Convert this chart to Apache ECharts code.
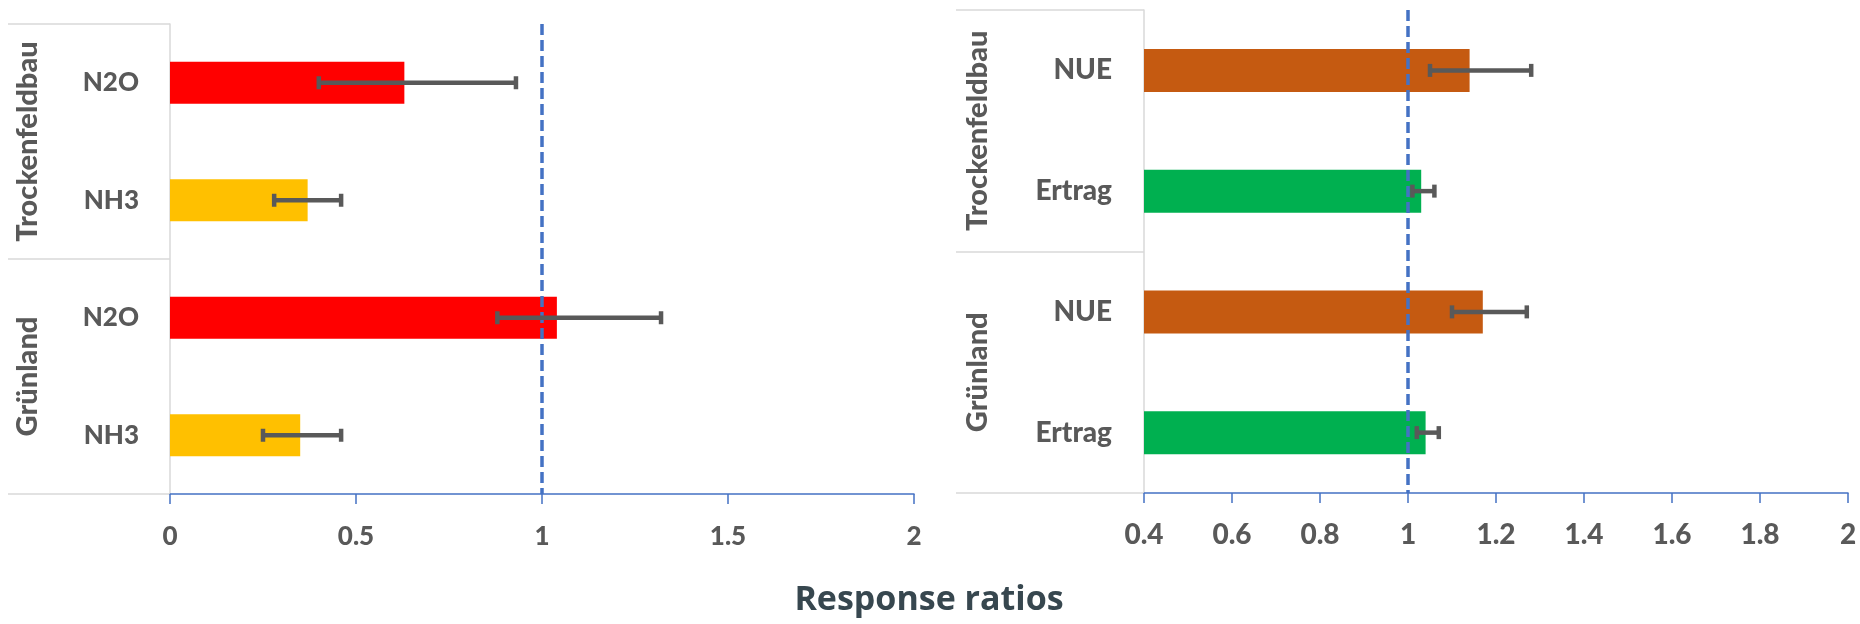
<!DOCTYPE html>
<html>
<head>
<meta charset="utf-8">
<script src="https://cdn.jsdelivr.net/npm/echarts@6/dist/echarts.min.js"></script>
<style>
  html, body { margin: 0; padding: 0; background: #fff; }
  #chart { width: 1860px; height: 624px; }
</style>
</head>
<body>
<div id="chart"></div>
<script>
// Emissions panel (left)
const emissionGroups = ['Trockenfeldbau', 'Grünland'];
const emissionNames = ['N2O', 'NH3', 'N2O', 'NH3'];
const emissionValues = [0.63, 0.37, 1.04, 0.35];
const emissionLow = [0.40, 0.28, 0.88, 0.25];
const emissionHigh = [0.93, 0.46, 1.32, 0.46];
const emissionTicks = { min: 0, max: 2, interval: 0.5 };

// Yield / NUE panel (right)
const yieldGroups = ['Trockenfeldbau', 'Grünland'];
const yieldNames = ['NUE', 'Ertrag', 'NUE', 'Ertrag'];
const yieldValues = [1.14, 1.03, 1.17, 1.04];
const yieldLow = [1.05, 1.01, 1.10, 1.02];
const yieldHigh = [1.28, 1.06, 1.27, 1.07];
const yieldTicks = { min: 0.4, max: 2, interval: 0.2 };

const axisTitle = 'Response ratios';

// styling
const emissionColors = { N2O: '#FF0000', NH3: '#FFC000' };
const yieldColors = { NUE: '#C55A11', Ertrag: '#00B050' };
const FONT = 'Lato';
const WEIGHT = 900;
const labelGrey = '#595959';
const tableGrey = '#D9D9D9';
const axisBlue = '#4472C4';

const chart = echarts.init(document.getElementById('chart'), null, { renderer: 'canvas' });

function keys(names) {
  return names.map((n, i) => i + '|' + n);
}

function errorRender(params, api) {
  const idx = api.value(2);
  const a = api.coord([api.value(0), idx]);
  const b = api.coord([api.value(1), idx]);
  const cap = 6.5;
  const style = { stroke: '#595959', lineWidth: 4.5 };
  return {
    type: 'group',
    children: [
      { type: 'line', shape: { x1: a[0], y1: a[1], x2: b[0], y2: b[1] }, style },
      { type: 'line', shape: { x1: a[0], y1: a[1] - cap, x2: a[0], y2: a[1] + cap }, style },
      { type: 'line', shape: { x1: b[0], y1: b[1] - cap, x2: b[0], y2: b[1] + cap }, style }
    ]
  };
}

function panel(gi, names, groups, values, low, high, colors, ticks, opts) {
  const cats = keys(names);
  const yAxes = [
    {
      type: 'category', gridIndex: gi, inverse: true, data: cats, position: 'left',
      axisLine: { show: false }, axisTick: { show: false },
      axisLabel: {
        interval: 0, margin: opts.nameMargin, fontFamily: FONT, fontWeight: WEIGHT,
        fontSize: opts.nameSize, color: labelGrey,
        formatter: (v) => v.split('|')[1]
      }
    },
    {
      type: 'category', gridIndex: gi, inverse: true, data: groups, position: 'left',
      axisLine: { show: true, lineStyle: { color: tableGrey, width: 1.5 } },
      axisTick: { show: true, interval: 0, length: opts.tableWidth, inside: false,
        lineStyle: { color: tableGrey, width: 1.5 } },
      axisLabel: {
        interval: 0, hideOverlap: false,
        rotate: 90, margin: opts.groupMargin, align: 'center', verticalAlign: 'middle',
        fontFamily: FONT, fontWeight: WEIGHT, fontSize: opts.groupSize, color: labelGrey
      }
    }
  ];
  const xAxis = {
    type: 'value', gridIndex: gi, min: ticks.min, max: ticks.max, interval: ticks.interval,
    splitLine: { show: false },
    axisLine: { show: true, onZero: false, lineStyle: { color: axisBlue, width: 1.5 } },
    axisTick: { show: true, length: 10, lineStyle: { color: axisBlue, width: 1.5 } },
    axisLabel: {
      margin: opts.tickMargin, fontFamily: FONT, fontWeight: WEIGHT,
      fontSize: opts.tickSize, color: labelGrey,
      formatter: (v) => String(Math.round(v * 10) / 10)
    }
  };
  const series = [
    {
      type: 'bar', xAxisIndex: gi, yAxisIndex: gi * 2, barWidth: opts.barWidth,
      data: values.map((v, i) => ({ value: v, itemStyle: { color: colors[names[i]] } })),
      silent: true,
      markLine: {
        silent: true, symbol: 'none', label: { show: false },
        lineStyle: { color: axisBlue, width: 3.5, type: [11, 5] },
        data: [{ xAxis: 1 }]
      }
    },
    {
      type: 'custom', xAxisIndex: gi, yAxisIndex: gi * 2, silent: true,
      renderItem: errorRender,
      encode: { x: [0, 1], y: 2 },
      data: low.map((l, i) => [l, high[i], i]),
      z: 5
    }
  ];
  return { yAxes, xAxis, series };
}

const left = panel(0, emissionNames, emissionGroups, emissionValues, emissionLow, emissionHigh,
  emissionColors, emissionTicks,
  { nameMargin: 31, nameSize: 26, groupMargin: 142, groupSize: 29, tableWidth: 162,
    tickMargin: 30, tickSize: 26, barWidth: 42 });
const right = panel(1, yieldNames, yieldGroups, yieldValues, yieldLow, yieldHigh,
  yieldColors, yieldTicks,
  { nameMargin: 32, nameSize: 28, groupMargin: 166, groupSize: 29, tableWidth: 188,
    tickMargin: 28, tickSize: 28, barWidth: 43 });

chart.setOption({
  animation: false,
  backgroundColor: '#ffffff',
  title: {
    text: axisTitle, left: 924, top: 578, textAlign: 'center',
    textStyle: { fontFamily: 'Open Sans', fontWeight: 'bold', fontSize: 34, color: '#37474F' }
  },
  grid: [
    { left: 170, top: 24, width: 744, height: 470 },
    { left: 1144, top: 10, width: 704, height: 483 }
  ],
  xAxis: [left.xAxis, right.xAxis],
  yAxis: [...left.yAxes, ...right.yAxes],
  series: [...left.series, ...right.series]
});
</script>
</body>
</html>
